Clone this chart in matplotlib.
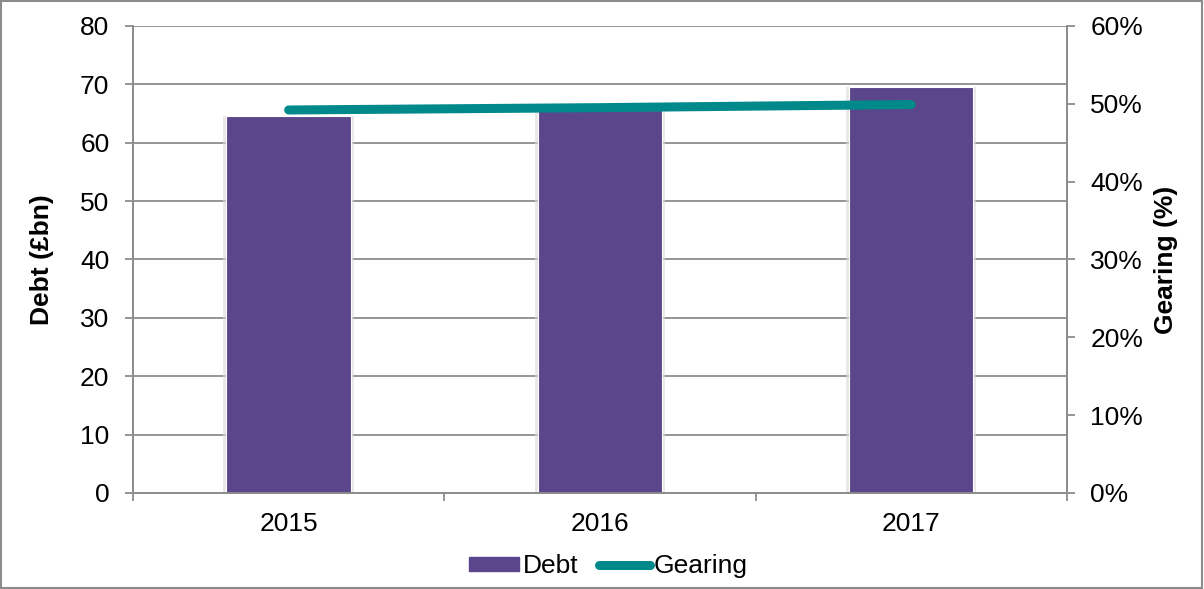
import matplotlib.pyplot as plt
from matplotlib.patches import Rectangle
from matplotlib.lines import Line2D
from matplotlib.ticker import FuncFormatter

plt.rcParams['font.family'] = ['Liberation Sans', 'DejaVu Sans']

years = ['2015', '2016', '2017']
debt = [64.5, 65.6, 69.5]          # £bn
gearing = [49.2, 49.5, 49.9]       # %

bar_col = '#5B468B'
line_col = '#00898A'
grid_col = '#8C8C8C'
fs = 19

fig = plt.figure(figsize=(12.04, 5.89), dpi=100)
ax = fig.add_axes([0.1105, 0.163, 0.7755, 0.793])
ax2 = ax.twinx()

x = list(range(len(years)))
# soft shadow behind each bar
ax.bar(x, debt, width=0.42, color='#D9D9D9', alpha=0.6, zorder=2)
ax.bar(x, debt, width=0.40, color=bar_col, edgecolor='white', linewidth=0.8, zorder=3)

ax2.plot(x, gearing, color=line_col, linewidth=6.5, solid_capstyle='round', zorder=4)

ax.set_xlim(-0.5, 2.5)
ax.set_ylim(0, 80)
ax.set_yticks(range(0, 81, 10))
ax2.set_ylim(0, 60)
ax2.set_yticks(range(0, 61, 10))
ax2.yaxis.set_major_formatter(FuncFormatter(lambda v, p: f'{int(v)}%'))

ax.yaxis.grid(True, color=grid_col, linewidth=1.3, zorder=0)
ax.set_axisbelow(True)

# category boundary ticks on the x axis
ax.set_xticks(x)
ax.set_xticklabels(years)
ax.tick_params(axis='x', length=0, labelsize=fs, pad=14)
ax.set_xticks([-0.5, 0.5, 1.5, 2.5], minor=True)
ax.tick_params(axis='x', which='minor', length=6, color=grid_col, width=1.3)

ax.tick_params(axis='y', length=6, color=grid_col, width=1.3, labelsize=fs, pad=11)
ax2.tick_params(axis='y', length=6, color=grid_col, width=1.3, labelsize=fs, pad=11)

for a in (ax, ax2):
    a.spines['top'].set_visible(False)
    for s in ('left', 'right', 'bottom'):
        a.spines[s].set_color(grid_col)
        a.spines[s].set_linewidth(1.3)

ax.set_ylabel('Debt (£bn)', fontsize=fs, fontweight='bold', labelpad=19)
ax2.set_ylabel('Gearing (%)', fontsize=fs, fontweight='bold', labelpad=8)

handles = [Rectangle((0, 0), 1, 1, color=bar_col),
           Line2D([0], [0], color=line_col, linewidth=6.5, solid_capstyle='round')]
fig.legend(handles, ['Debt', 'Gearing'], loc='center', bbox_to_anchor=(0.505, 0.039),
           ncol=2, frameon=False, fontsize=fs, handlelength=1.9, handletextpad=0.15,
           columnspacing=0.8, handleheight=0.45)

# outer border around the figure
fig.patches.append(Rectangle((0.001, 0.002), 0.997, 0.996, transform=fig.transFigure,
                             fill=False, edgecolor='#8C8C8C', linewidth=1.5))

fig.savefig('out.png', dpi=100)
